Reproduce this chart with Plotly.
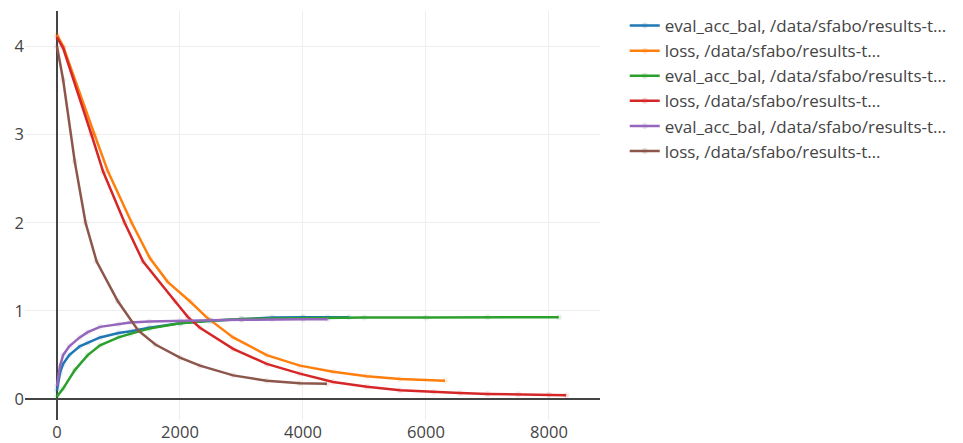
import plotly.graph_objects as go

names = [
    "eval_acc_bal, /data/sfabo/results-t…",
    "loss, /data/sfabo/results-t…",
    "eval_acc_bal, /data/sfabo/results-t…",
    "loss, /data/sfabo/results-t…",
    "eval_acc_bal, /data/sfabo/results-t…",
    "loss, /data/sfabo/results-t…",
]
colors = ["#1f77b4", "#ff7f0e", "#2ca02c", "#d62728", "#9467bd", "#8c564b"]

# run 1
acc1_x = [0, 50, 100, 200, 370, 500, 700, 1000, 1200, 1500, 2000, 2500, 3000, 3500, 4000, 4400, 4750]
acc1_y = [0.10, 0.30, 0.40, 0.50, 0.60, 0.64, 0.70, 0.75, 0.77, 0.81, 0.86, 0.89, 0.91, 0.925, 0.93, 0.93, 0.93]
loss1_x = [0, 100, 610, 830, 1215, 1510, 1800, 2160, 2430, 2865, 3410, 3950, 4490, 5040, 5580, 6310]
loss1_y = [4.13, 4.00, 3.00, 2.58, 2.00, 1.60, 1.33, 1.11, 0.93, 0.70, 0.50, 0.38, 0.31, 0.26, 0.23, 0.21]

# run 2
acc2_x = [0, 100, 290, 500, 700, 1000, 1190, 1500, 2000, 2490, 3000, 4000, 5000, 6000, 7000, 8160]
acc2_y = [0.03, 0.12, 0.33, 0.50, 0.61, 0.70, 0.74, 0.80, 0.86, 0.89, 0.91, 0.92, 0.925, 0.925, 0.93, 0.93]
loss2_x = [0, 100, 560, 750, 1100, 1400, 1920, 2130, 2325, 2865, 3410, 3950, 4490, 5040, 5580, 6120, 6550, 7000, 7500, 8000, 8280]
loss2_y = [4.10, 3.98, 3.00, 2.58, 2.00, 1.56, 1.11, 0.93, 0.81, 0.57, 0.40, 0.29, 0.195, 0.14, 0.10, 0.08, 0.07, 0.06, 0.055, 0.05, 0.045]

# run 3
acc3_x = [0, 50, 100, 200, 370, 500, 700, 1000, 1190, 1500, 2000, 2500, 3000, 3500, 4000, 4400]
acc3_y = [0.15, 0.38, 0.50, 0.60, 0.70, 0.76, 0.82, 0.85, 0.87, 0.88, 0.89, 0.895, 0.90, 0.905, 0.905, 0.905]
loss3_x = [0, 100, 290, 465, 645, 990, 1320, 1600, 2000, 2325, 2865, 3410, 3950, 4390]
loss3_y = [4.00, 3.62, 2.69, 2.00, 1.56, 1.11, 0.78, 0.62, 0.47, 0.38, 0.27, 0.21, 0.18, 0.175]

xs = [acc1_x, loss1_x, acc2_x, loss2_x, acc3_x, loss3_x]
ys = [acc1_y, loss1_y, acc2_y, loss2_y, acc3_y, loss3_y]

fig = go.Figure()
for n, c, x, y in zip(names, colors, xs, ys):
    fig.add_trace(go.Scatter(
        x=x, y=y, name=n, mode="lines+markers",
        line=dict(color=c, width=2.5),
        marker=dict(color=c, size=6, opacity=0.12),
    ))

fig.update_layout(
    width=963, height=443,
    margin=dict(l=17, r=371, t=0, b=31),
    paper_bgcolor="white", plot_bgcolor="white",
    font=dict(family="Open Sans, Verdana, sans-serif", size=16.5, color="#444"),
    legend=dict(font=dict(size=17), x=1.043, y=1.008, xanchor="left", yanchor="top"),
    showlegend=True,
)
fig.update_xaxes(range=[-520, 8830], tickvals=[0, 2000, 4000, 6000, 8000],
                 showgrid=True, gridcolor="#eee", zeroline=True, automargin=False,
                 zerolinecolor="#444", zerolinewidth=2, showline=False, ticks="")
fig.update_yaxes(range=[-0.236, 4.40], tickvals=[0, 1, 2, 3, 4],
                 showgrid=True, gridcolor="#eee", zeroline=True, automargin=False,
                 zerolinecolor="#444", zerolinewidth=2, showline=False, ticks="")

fig.write_html("out.html")
